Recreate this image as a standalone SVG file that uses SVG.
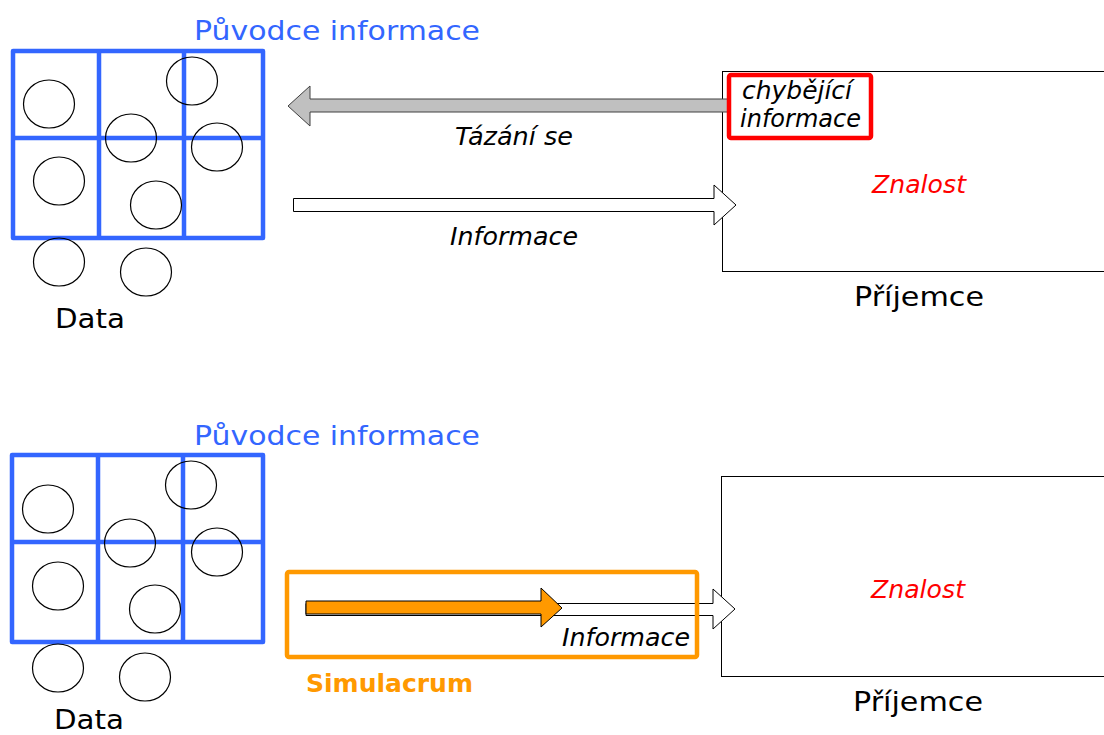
<svg xmlns="http://www.w3.org/2000/svg" width="1104" height="735" viewBox="0 0 1104 735">
<style>
.grid{fill:none;stroke:#3366FF;stroke-width:4.5;stroke-linejoin:round}
.dot{fill:none;stroke:#000;stroke-width:1.2}
.big{font-family:"DejaVu Sans",Verdana,sans-serif;font-size:27px}
.blue{fill:#3366FF}
.it{font-family:"DejaVu Sans",Verdana,sans-serif;font-size:25px;font-style:italic;fill:#000}
.red{fill:#FF0000}
.recv{fill:#fff;stroke:#000;stroke-width:1}
</style>
<rect width="1104" height="735" fill="#fff"/>

<g id="source-top">
<text class="big blue" x="194" y="40" textLength="286" lengthAdjust="spacingAndGlyphs">Původce informace</text>
<rect class="grid" x="13" y="51" width="250" height="187"/>
<line class="grid" x1="99" y1="51" x2="99" y2="238"/>
<line class="grid" x1="184" y1="51" x2="184" y2="238"/>
<line class="grid" x1="13" y1="138" x2="263" y2="138"/>
<ellipse class="dot" cx="49" cy="104" rx="25.5" ry="24"/>
<ellipse class="dot" cx="192" cy="81" rx="25.5" ry="24"/>
<ellipse class="dot" cx="131" cy="138" rx="25.5" ry="24"/>
<ellipse class="dot" cx="217" cy="147" rx="25.5" ry="24"/>
<ellipse class="dot" cx="59" cy="181" rx="25.5" ry="24"/>
<ellipse class="dot" cx="156" cy="205" rx="25.5" ry="24"/>
<ellipse class="dot" cx="59" cy="262" rx="25.5" ry="24"/>
<ellipse class="dot" cx="146" cy="272" rx="25.5" ry="24"/>
<text class="big" x="55" y="328" textLength="70" lengthAdjust="spacingAndGlyphs">Data</text>
</g>

<g id="receiver-top">
<rect class="recv" x="722.5" y="71.5" width="400" height="200"/>
<text class="it red" x="872" y="193" textLength="94" lengthAdjust="spacingAndGlyphs">Znalost</text>
<text class="big" x="854" y="306" textLength="130" lengthAdjust="spacingAndGlyphs">Příjemce</text>
</g>

<g id="connectors-top">
<polygon points="288,106 310,86 310,99 728,99 728,112 310,112 310,126" fill="#C0C0C0" stroke="#404040" stroke-width="1"/>
<text class="it" x="455" y="145" textLength="118" lengthAdjust="spacingAndGlyphs">Tázání se</text>
<polygon points="293.5,198.5 714,198.5 714,185 736,205 714,225 714,211.5 293.5,211.5" fill="#fff" stroke="#000" stroke-width="1"/>
<text class="it" x="450" y="245" textLength="128" lengthAdjust="spacingAndGlyphs">Informace</text>
</g>

<g id="missing-info">
<rect x="729" y="75" width="142" height="63" rx="2" fill="#fff" stroke="#FF0000" stroke-width="4.5"/>
<text class="it" x="742" y="99" textLength="110" lengthAdjust="spacingAndGlyphs">chybějící</text>
<text class="it" x="740" y="127" textLength="121" lengthAdjust="spacingAndGlyphs">informace</text>
</g>

<g id="source-bottom">
<text class="big blue" x="194" y="445" textLength="286" lengthAdjust="spacingAndGlyphs">Původce informace</text>
<rect class="grid" x="12" y="455" width="251" height="187"/>
<line class="grid" x1="98" y1="455" x2="98" y2="642"/>
<line class="grid" x1="183" y1="455" x2="183" y2="642"/>
<line class="grid" x1="12" y1="542" x2="263" y2="542"/>
<ellipse class="dot" cx="48" cy="509" rx="25.5" ry="24"/>
<ellipse class="dot" cx="191" cy="485" rx="25.5" ry="24"/>
<ellipse class="dot" cx="130" cy="543" rx="25.5" ry="24"/>
<ellipse class="dot" cx="217" cy="552" rx="25.5" ry="24"/>
<ellipse class="dot" cx="58" cy="586" rx="25.5" ry="24"/>
<ellipse class="dot" cx="155" cy="609" rx="25.5" ry="24"/>
<ellipse class="dot" cx="58" cy="668" rx="25.5" ry="24"/>
<ellipse class="dot" cx="145" cy="677" rx="25.5" ry="24"/>
<text class="big" x="54" y="729" textLength="70" lengthAdjust="spacingAndGlyphs">Data</text>
</g>

<g id="receiver-bottom">
<rect class="recv" x="721.5" y="476.5" width="400" height="200"/>
<text class="it red" x="871" y="598" textLength="94" lengthAdjust="spacingAndGlyphs">Znalost</text>
<text class="big" x="853" y="711" textLength="130" lengthAdjust="spacingAndGlyphs">Příjemce</text>
</g>

<g id="connectors-bottom">
<polygon points="306,603.5 713,603.5 713,589 735,609 713,629 713,615.5 306,615.5" fill="#fff" stroke="#000" stroke-width="1"/>
<polygon points="306,601 541,601 541,588 562,608 541,627 541,614 306,614" fill="#FF9900" stroke="#000" stroke-width="1"/>
<text class="it" x="562" y="646" textLength="128" lengthAdjust="spacingAndGlyphs">Informace</text>
</g>

<g id="simulacrum">
<rect x="287" y="572" width="410" height="85" rx="2" fill="none" stroke="#FF9900" stroke-width="4.5"/>
<text x="306" y="692" font-family="'DejaVu Sans',Verdana,sans-serif" font-size="24" font-weight="bold" fill="#FF9900" textLength="167" lengthAdjust="spacingAndGlyphs">Simulacrum</text>
</g>
</svg>
